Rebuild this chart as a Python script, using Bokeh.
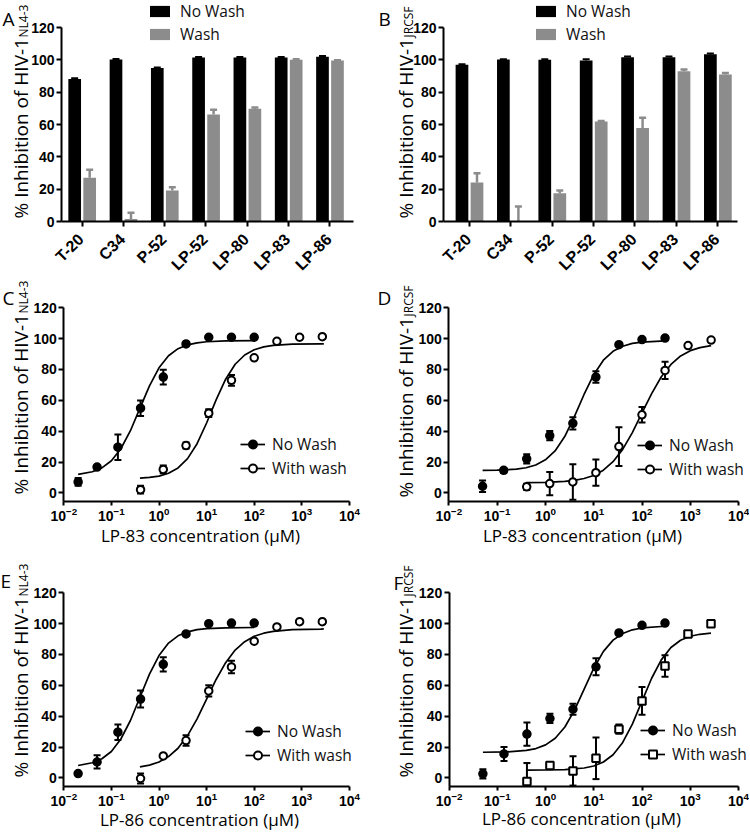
import math
from bokeh.plotting import figure
from bokeh.models import ColumnDataSource, Range1d, FixedTicker, Label, Legend, LegendItem
from bokeh.layouts import column, row
from bokeh.embed import file_html
from bokeh.resources import INLINE

# ---------------- data ----------------
categories = ["T-20", "C34", "P-52", "LP-52", "LP-80", "LP-83", "LP-86"]
y_ticks = [0, 20, 40, 60, 80, 100, 120]
log_ticks = [0.01, 0.1, 1, 10, 100, 1000, 10000]

a_nowash = [88.2, 100.2, 95.0, 101.4, 101.4, 101.4, 101.9]
a_nowash_err = [0.4, 0.3, 0.3, 0.3, 0.3, 0.3, 0.4]
a_wash = [27.0, 1.6, 19.2, 66.2, 69.7, 100.0, 99.6]
a_wash_err = [5.0, 3.8, 2.0, 2.9, 0.8, 0.3, 0.2]

b_nowash = [96.9, 100.2, 100.0, 99.6, 101.6, 101.6, 103.5]
b_nowash_err = [0.4, 0.2, 0.3, 0.7, 0.4, 0.4, 0.4]
b_wash = [24.1, 0.3, 17.5, 61.9, 57.9, 93.0, 90.9]
b_wash_err = [5.8, 9.0, 1.7, 0.3, 6.2, 1.0, 0.9]

# Panel C: LP-83, HIV-1 NL4-3
c_nw_conc = [0.02, 0.05, 0.137, 0.41, 1.23, 3.7, 11.1, 33.3, 100]
c_nw_inh = [7.1, 16.7, 29.6, 54.9, 75.1, 96.6, 100.9, 100.9, 100.9]
c_nw_err = [2.5, 1.0, 8.3, 5.0, 4.8, 1.0, 0.5, 0.5, 0.5]
c_w_conc = [0.41, 1.23, 3.7, 11.1, 33.3, 100, 300, 900, 2700]
c_w_inh = [2.1, 15.2, 30.7, 51.7, 73.0, 87.6, 98.3, 100.9, 101.3]
c_w_err = [2.5, 2.5, 2.0, 2.5, 3.5, 1.0, 1.0, 1.0, 1.0]
c_nw_fit_conc = [0.02, 0.0398, 0.0631, 0.1, 0.158, 0.251, 0.398, 0.631, 1, 1.585, 2.512, 3.981, 6.31, 10, 25.12, 100]
c_nw_fit_inh = [12.0, 13.7, 16.2, 20.8, 28.6, 40.3, 54.9, 69.4, 81.1, 88.9, 93.5, 96.0, 97.3, 98.0, 98.5, 98.7]
c_w_fit_conc = [0.398, 0.631, 1, 1.585, 2.512, 3.981, 6.31, 10, 15.85, 25.12, 39.81, 63.1, 100, 158.5, 251.2, 631, 2512, 2900]
c_w_fit_inh = [9.5, 10.0, 10.9, 12.7, 16.2, 22.2, 31.9, 45.3, 60.3, 73.7, 83.4, 89.4, 92.8, 94.7, 95.6, 96.4, 96.6, 96.6]

# Panel D: LP-83, HIV-1 JRCSF
d_nw_conc = [0.05, 0.137, 0.41, 1.23, 3.7, 11.1, 33.3, 100, 300]
d_nw_inh = [4.3, 14.6, 22.1, 37.1, 45.1, 75.1, 96.1, 99.4, 100.4]
d_nw_err = [3.8, 1.5, 3.0, 3.0, 4.0, 3.7, 1.0, 1.0, 1.0]
d_w_conc = [0.41, 1.23, 3.7, 11.1, 33.3, 100, 300, 900, 2700]
d_w_inh = [3.9, 6.0, 7.1, 13.1, 30.0, 50.6, 79.4, 95.5, 99.1]
d_w_err = [2.0, 7.5, 11.5, 8.5, 12.5, 5.0, 5.6, 1.0, 1.0]
d_nw_fit_conc = [0.0501, 0.1, 0.251, 0.398, 0.631, 1, 1.585, 2.512, 3.981, 6.31, 10, 15.85, 25.12, 39.81, 63.1, 100, 300]
d_nw_fit_inh = [14.6, 14.7, 15.4, 16.3, 18.1, 21.4, 27.2, 36.5, 49.4, 63.8, 76.6, 86.0, 91.8, 95.1, 96.9, 97.8, 98.5]
d_w_fit_conc = [0.398, 1, 2.512, 3.981, 6.31, 10, 15.85, 25.12, 39.81, 63.1, 100, 158.5, 251.2, 398.1, 631, 1000, 1585, 2700]
d_w_fit_inh = [6.6, 6.8, 7.4, 8.1, 9.3, 11.3, 14.7, 20.2, 28.2, 39.1, 51.8, 64.4, 75.3, 83.3, 88.8, 92.2, 94.2, 95.5]

# Panel E: LP-86, HIV-1 NL4-3
e_nw_conc = [0.02, 0.05, 0.137, 0.41, 1.23, 3.7, 11.1, 33.3, 100]
e_nw_inh = [2.8, 10.3, 29.6, 51.1, 73.6, 93.3, 100.0, 100.4, 100.4]
e_nw_err = [1.0, 4.3, 5.0, 5.5, 4.6, 1.0, 1.0, 1.0, 1.0]
e_w_conc = [0.41, 1.23, 3.7, 11.1, 33.3, 100, 300, 900, 2700]
e_w_inh = [-0.4, 14.2, 24.2, 56.4, 71.9, 88.6, 97.9, 101.3, 101.3]
e_w_err = [3.2, 1.0, 3.4, 3.6, 4.0, 1.0, 1.0, 1.0, 1.0]
e_nw_fit_conc = [0.02, 0.0398, 0.0631, 0.1, 0.158, 0.251, 0.398, 0.631, 1, 1.585, 2.512, 3.981, 6.31, 10, 25.12, 100]
e_nw_fit_inh = [8.0, 9.8, 12.4, 17.1, 25.2, 37.2, 52.3, 67.3, 79.3, 87.4, 92.1, 94.7, 96.1, 96.8, 97.3, 97.5]
e_w_fit_conc = [0.398, 0.631, 1, 1.585, 2.512, 3.981, 6.31, 10, 15.85, 25.12, 39.81, 63.1, 100, 158.5, 251.2, 631, 2512, 2900]
e_w_fit_inh = [7.1, 8.3, 10.3, 13.8, 19.2, 27.4, 38.3, 51.1, 63.8, 74.7, 82.9, 88.3, 91.8, 93.8, 95.0, 96.1, 96.5, 96.6]

# Panel F: LP-86, HIV-1 JRCSF
f_nw_conc = [0.05, 0.137, 0.41, 1.23, 3.7, 11.1, 33.3, 100, 300]
f_nw_inh = [2.6, 15.5, 28.4, 38.5, 44.5, 72.0, 94.0, 98.9, 100.4]
f_nw_err = [3.0, 4.5, 7.5, 3.0, 3.5, 5.5, 1.0, 1.0, 1.0]
f_w_conc = [0.41, 1.23, 3.7, 11.1, 33.3, 100, 300, 900, 2700]
f_w_inh = [-2.4, 8.0, 4.5, 12.7, 31.6, 49.9, 72.5, 93.3, 100.0]
f_w_err = [12.0, 1.5, 9.5, 13.5, 3.0, 9.0, 7.0, 1.0, 1.0]
f_nw_fit_conc = [0.0501, 0.158, 0.398, 0.631, 1, 1.585, 2.512, 3.981, 6.31, 10, 15.85, 25.12, 39.81, 63.1, 100, 300]
f_nw_fit_inh = [16.6, 16.8, 17.8, 19.0, 21.4, 25.7, 33.0, 43.9, 57.5, 71.1, 82.0, 89.3, 93.6, 96.0, 97.2, 98.3]
f_w_fit_conc = [0.398, 1, 2.512, 6.31, 10, 15.85, 25.12, 39.81, 63.1, 100, 158.5, 251.2, 398.1, 631, 1000, 1585, 2700]
f_w_fit_inh = [5.0, 5.1, 5.4, 6.4, 7.7, 10.3, 15.0, 23.0, 34.9, 49.8, 64.6, 76.5, 84.5, 89.2, 91.8, 93.1, 93.9]

# ---------------- styling / layout helpers ----------------
TICK_FONT = "Liberation Sans"
TEXT_FONT = "Open Sans"
GRAY = "#8c8c8c"
MAIN_TITLE_LEN = 181
Y_MIN_CURVE = -5.4


def make_fig(box, x_range, y_range, x_log=False):
    X0, Y0, W, H = box
    p = figure(width=W, height=H, x_range=x_range, y_range=y_range,
               x_axis_type="log" if x_log else "linear",
               output_backend="svg", toolbar_location=None, min_border=0,
               background_fill_color="white", border_fill_color="white")
    p.outline_line_color = None
    p.grid.visible = False
    for ax in p.axis:
        ax.axis_line_width = 2
        ax.axis_line_color = "black"
        ax.major_tick_line_width = 2
        ax.major_tick_line_color = "black"
        ax.major_tick_in = 0
        ax.major_tick_out = 5
        ax.minor_tick_line_color = None
        ax.major_label_text_font = TICK_FONT
        ax.major_label_text_font_style = "bold"
        ax.major_label_text_font_size = "14px"
        ax.major_label_text_color = "black"
        ax.major_label_standoff = 2
    p.yaxis.ticker = FixedTicker(ticks=y_ticks)
    return p


def page_label(p, box, text, px, py, size, angle=0.0, align="left"):
    X0, Y0, W, H = box
    p.add_layout(Label(x=px - X0, y=Y0 + H - py, x_units="screen", y_units="screen",
                       text=text, angle=angle, text_align=align, text_baseline="alphabetic",
                       text_font=TEXT_FONT, text_font_size=size, text_color="black"))


def decorate(p, box, letter, letter_xy, sub, title_xy):
    page_label(p, box, letter, letter_xy[0], letter_xy[1], "19px")
    bx, sy = title_xy
    page_label(p, box, "% Inhibition of HIV-1", bx, sy, "19px", angle=math.pi / 2)
    page_label(p, box, sub, bx + 3, sy - MAIN_TITLE_LEN, "12px", angle=math.pi / 2)


def add_legend(p, box, items, left_px, row1_py, glyph_h, spacing, standoff):
    X0, Y0, W, H = box
    bottom_py = row1_py + 10.5 + 21 + spacing
    lg = Legend(items=items, location=(left_px - X0, Y0 + H - bottom_py), orientation="vertical",
                glyph_width=25, glyph_height=glyph_h, label_standoff=standoff, spacing=spacing,
                padding=0, margin=0, border_line_color=None, background_fill_alpha=0,
                label_text_font=TEXT_FONT, label_text_font_size="15.5px", label_text_color="#111111")
    p.add_layout(lg)


def bar_panel(box, nowash, nowash_err, wash, wash_err, axis_px, axis_end_px, tick0_px, ppx,
              axis_py, ppu, letter, letter_xy, sub, title_xy, legend_px):
    X0, Y0, W, H = box
    xv = lambda page: (page - tick0_px) / ppx
    yv = lambda page: (axis_py - page) / ppu
    p = make_fig(box, Range1d(xv(X0), xv(X0 + W)), Range1d(yv(Y0 + H), yv(Y0)))
    idx = list(range(len(categories)))
    p.yaxis.fixed_location = xv(axis_px)
    p.yaxis.bounds = (0, 120)
    p.xaxis.fixed_location = 0
    p.xaxis.bounds = (xv(axis_px), xv(axis_end_px))
    p.xaxis.ticker = FixedTicker(ticks=idx)
    p.xaxis.major_label_overrides = {i: "" for i in idx}
    # category labels, rotated 45 degrees, ending at each tick
    for i, c in zip(idx, categories):
        p.add_layout(Label(x=i, y=Y0 + H - (axis_py + 15), x_units="data", y_units="screen",
                           x_offset=-1, text=c, angle=math.pi / 4, text_align="right",
                           text_baseline="middle", text_font=TICK_FONT, text_font_style="bold",
                           text_font_size="16px", text_color="black"))
    src = ColumnDataSource(dict(
        xn=[i - 0.177 for i in idx], xw=[i + 0.186 for i in idx],
        nw=nowash, nw_top=[v + e for v, e in zip(nowash, nowash_err)],
        w=wash, w_top=[v + e for v, e in zip(wash, wash_err)]))
    rn = p.vbar(x="xn", top="nw", bottom=0, width=0.307, fill_color="black", line_color=None, source=src)
    rw = p.vbar(x="xw", top="w", bottom=0, width=0.307, fill_color=GRAY, line_color=None, source=src)
    p.segment(x0="xn", y0="nw", x1="xn", y1="nw_top", line_color="black", line_width=2, source=src)
    p.scatter(x="xn", y="nw_top", marker="dash", size=7, line_color="black", line_width=2, source=src)
    p.segment(x0="xw", y0="w", x1="xw", y1="w_top", line_color=GRAY, line_width=2.5, source=src)
    p.scatter(x="xw", y="w_top", marker="dash", size=7, line_color=GRAY, line_width=2.5, source=src)
    add_legend(p, box, [LegendItem(label="No Wash", renderers=[rn]), LegendItem(label="Wash", renderers=[rw])],
               legend_px, 12.5, 14, 1, 8)
    decorate(p, box, letter, letter_xy, sub, title_xy)
    return p


def curve_panel(box, axis_px, ppd, axis_py, ppu, nw, w, wash_marker, xtitle, xtitle_xy,
                letter, letter_xy, sub, title_xy, legend_xy):
    X0, Y0, W, H = box
    lv = lambda page: -2 + (page - axis_px) / ppd
    yv = lambda page: Y_MIN_CURVE + (axis_py - page) / ppu
    p = make_fig(box, Range1d(10 ** lv(X0), 10 ** lv(X0 + W)), Range1d(yv(Y0 + H), yv(Y0)), x_log=True)
    p.yaxis.fixed_location = log_ticks[0]
    p.yaxis.bounds = (Y_MIN_CURVE, 120)
    p.xaxis.fixed_location = Y_MIN_CURVE
    p.xaxis.bounds = (log_ticks[0], log_ticks[-1])
    p.xaxis.ticker = FixedTicker(ticks=log_ticks)
    p.xaxis.major_tick_out = 4
    items = []
    for (conc, inh, err, fconc, finh), label, marker, fill in (
            (nw, "No Wash", "circle", "black"),
            (w, "With wash", wash_marker, "white")):
        rl = p.line(x="x", y="y", line_color="black", line_width=1.7,
                    source=ColumnDataSource(dict(x=fconc, y=finh)))
        lo = [v - e for v, e in zip(inh, err)]
        hi = [v + e for v, e in zip(inh, err)]
        src = ColumnDataSource(dict(x=conc, y=inh, lo=[max(v, Y_MIN_CURVE) for v in lo], hi=hi))
        p.segment(x0="x", y0="lo", x1="x", y1="hi", line_color="black", line_width=2, source=src)
        p.scatter(x="x", y="hi", marker="dash", size=7, line_color="black", line_width=2, source=src)
        cap_lo = ColumnDataSource(dict(x=[c for c, v in zip(conc, lo) if v >= Y_MIN_CURVE],
                                       y=[v for v in lo if v >= Y_MIN_CURVE]))
        p.scatter(x="x", y="y", marker="dash", size=7, line_color="black", line_width=2, source=cap_lo)
        rs = p.scatter(x="x", y="y", marker=marker, size=7.5, fill_color=fill,
                       line_color="black", line_width=2, source=src)
        items.append(LegendItem(label=label, renderers=[rl, rs]))
    add_legend(p, box, items, legend_xy[0], legend_xy[1], 20, 2, 7)
    page_label(p, box, xtitle, xtitle_xy[0], xtitle_xy[1], "17px", align="center")
    decorate(p, box, letter, letter_xy, sub, title_xy)
    return p


BOX_A = (0, 0, 375, 276)
BOX_B = (375, 0, 374, 276)
BOX_C = (0, 276, 375, 276)
BOX_D = (375, 276, 374, 276)
BOX_E = (0, 552, 375, 280)
BOX_F = (375, 552, 374, 280)

pA = bar_panel(BOX_A, a_nowash, a_nowash_err, a_wash, a_wash_err, 61, 353, 81.5, 41.3, 221, 194 / 120,
               "A", (2, 18), "NL4-3", (20, 218), 147)
pB = bar_panel(BOX_B, b_nowash, b_nowash_err, b_wash, b_wash_err, 443, 737, 468.8, 41.4, 221, 194 / 120,
               "B", (378, 18), "JRCSF", (405, 218), 533)

PPU = 193.4 / 125.4
pC = curve_panel(BOX_C, 63.3, 47.6, 500.7, PPU,
                 (c_nw_conc, c_nw_inh, c_nw_err, c_nw_fit_conc, c_nw_fit_inh),
                 (c_w_conc, c_w_inh, c_w_err, c_w_fit_conc, c_w_fit_inh), "circle",
                 "LP-83 concentration (µM)", (200, 535), "C", (2, 297), "NL4-3", (20, 494), (240, 445))
pD = curve_panel(BOX_D, 448.3, 48.3, 500.7, PPU,
                 (d_nw_conc, d_nw_inh, d_nw_err, d_nw_fit_conc, d_nw_fit_inh),
                 (d_w_conc, d_w_inh, d_w_err, d_w_fit_conc, d_w_fit_inh), "circle",
                 "LP-83 concentration (µM)", (582, 535), "D", (377, 297), "JRCSF", (405, 497), (637, 446))
pE = curve_panel(BOX_E, 63.3, 47.6, 785.7, PPU,
                 (e_nw_conc, e_nw_inh, e_nw_err, e_nw_fit_conc, e_nw_fit_inh),
                 (e_w_conc, e_w_inh, e_w_err, e_w_fit_conc, e_w_fit_inh), "circle",
                 "LP-86 concentration (µM)", (199, 819), "E", (0, 580), "NL4-3", (20, 777), (245, 732))
pF = curve_panel(BOX_F, 448.7, 48.2, 785.7, PPU,
                 (f_nw_conc, f_nw_inh, f_nw_err, f_nw_fit_conc, f_nw_fit_inh),
                 (f_w_conc, f_w_inh, f_w_err, f_w_fit_conc, f_w_fit_inh), "square",
                 "LP-86 concentration (µM)", (581, 818), "F", (393, 582), "JRCSF", (405, 777), (640, 731))

layout = column(row(pA, pB), row(pC, pD), row(pE, pF))
open("out.html", "w").write(file_html(layout, INLINE))
